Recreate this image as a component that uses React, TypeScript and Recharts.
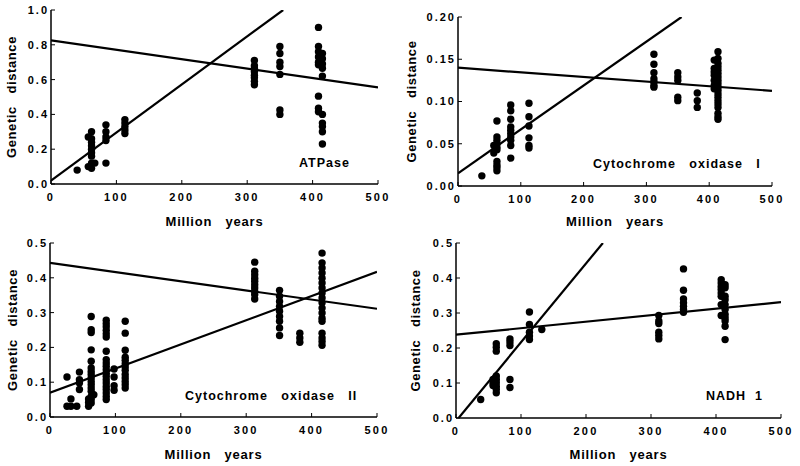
import React from 'react'
import { ScatterChart, Scatter, XAxis, YAxis, ReferenceLine } from 'recharts'

// [million years, genetic distances at that age]
type Group = [number, number[]]
// regression line: x1, y1, x2, y2
type Fit = [number, number, number, number]

const xTicks = [0, 100, 200, 300, 400, 500]

const atpaseGroups: Group[] = [
  [40, [0.08]],
  [57, [0.27, 0.1]],
  [62, [0.3, 0.26, 0.24, 0.22, 0.2, 0.18, 0.16, 0.12, 0.09]],
  [67, [0.12]],
  [84, [0.34, 0.3, 0.27, 0.25, 0.12]],
  [113, [0.37, 0.35, 0.33, 0.31, 0.29]],
  [311, [0.71, 0.68, 0.665, 0.645, 0.625, 0.61, 0.59, 0.57]],
  [350, [0.79, 0.75, 0.7, 0.675, 0.63, 0.425, 0.4]],
  [409, [0.9, 0.79, 0.76, 0.73, 0.7, 0.685, 0.505, 0.435, 0.415]],
  [415, [0.75, 0.72, 0.69, 0.665, 0.62, 0.4, 0.35, 0.33, 0.3, 0.23]],
]
const atpaseFits: Fit[] = [
  [0, 0.02, 355, 1.0],
  [0, 0.825, 500, 0.555],
]
const atpaseTicks = [0, 0.2, 0.4, 0.6, 0.8, 1.0]

const cox1Groups: Group[] = [
  [38, [0.012]],
  [57, [0.048, 0.039]],
  [62, [0.077, 0.058, 0.054, 0.05, 0.046, 0.043, 0.029, 0.025, 0.022, 0.018]],
  [84, [0.096, 0.089, 0.079, 0.07, 0.066, 0.062, 0.058, 0.054, 0.048, 0.033]],
  [113, [0.098, 0.082, 0.071, 0.057, 0.048, 0.045]],
  [312, [0.156, 0.144, 0.134, 0.127, 0.123, 0.119, 0.117]],
  [350, [0.134, 0.129, 0.125, 0.105, 0.101]],
  [381, [0.11, 0.101, 0.093]],
  [408, [0.149, 0.139, 0.135, 0.131, 0.125, 0.119, 0.115]],
  [414, [0.159, 0.151, 0.145, 0.141, 0.137, 0.133, 0.129, 0.125, 0.121, 0.117, 0.113, 0.109, 0.105, 0.101, 0.097, 0.093, 0.086, 0.082, 0.079]],
]
const cox1Fits: Fit[] = [
  [0, 0.015, 356, 0.2],
  [0, 0.14, 500, 0.1126],
]
const cox1Ticks = [0, 0.05, 0.1, 0.15, 0.2]

const cox2Groups: Group[] = [
  [26, [0.115, 0.031]],
  [32, [0.052, 0.031]],
  [41, [0.031]],
  [45, [0.129, 0.107, 0.098, 0.079]],
  [59, [0.052, 0.042, 0.031]],
  [63, [0.289, 0.251, 0.243, 0.193, 0.16, 0.141, 0.131, 0.122, 0.112, 0.102, 0.093, 0.083, 0.074, 0.059, 0.05, 0.04]],
  [67, [0.064]],
  [86, [0.278, 0.268, 0.259, 0.249, 0.239, 0.23, 0.189, 0.165, 0.155, 0.146, 0.136, 0.126, 0.117, 0.107, 0.098, 0.088, 0.079, 0.069, 0.059, 0.05]],
  [98, [0.138, 0.115, 0.09, 0.077]],
  [115, [0.275, 0.241, 0.192, 0.172, 0.163, 0.153, 0.144, 0.134, 0.122, 0.112, 0.102, 0.093, 0.083]],
  [313, [0.445, 0.419, 0.409, 0.399, 0.39, 0.38, 0.371, 0.361, 0.352, 0.339]],
  [351, [0.364, 0.347, 0.332, 0.318, 0.304, 0.289, 0.275, 0.256, 0.234]],
  [382, [0.241, 0.227, 0.215]],
  [416, [0.471, 0.443, 0.428, 0.414, 0.399, 0.385, 0.371, 0.356, 0.342, 0.328, 0.313, 0.299, 0.284, 0.275, 0.241, 0.227, 0.217, 0.206]],
]
const cox2Fits: Fit[] = [
  [0, 0.07, 500, 0.417],
  [0, 0.443, 500, 0.311],
]
const halfTicks = [0, 0.1, 0.2, 0.3, 0.4, 0.5]

const nadhGroups: Group[] = [
  [38, [0.053]],
  [57, [0.11, 0.101, 0.093]],
  [62, [0.212, 0.202, 0.191, 0.12, 0.11, 0.101, 0.091, 0.082, 0.072]],
  [83, [0.226, 0.217, 0.207, 0.11, 0.087]],
  [113, [0.303, 0.267, 0.245, 0.234, 0.224]],
  [132, [0.253]],
  [312, [0.293, 0.277, 0.27, 0.245, 0.236, 0.226]],
  [350, [0.426, 0.365, 0.34, 0.329, 0.319, 0.31, 0.302]],
  [408, [0.395, 0.386, 0.376, 0.367, 0.357, 0.348, 0.324, 0.293]],
  [414, [0.381, 0.372, 0.348, 0.338, 0.324, 0.31, 0.296, 0.286, 0.277, 0.262, 0.224]],
]
const nadhFits: Fit[] = [
  [4, 0, 226, 0.5],
  [0, 0.238, 500, 0.331],
]

const FONT = '"Liberation Sans", Arial, Helvetica, sans-serif'
const W = 400
const H = 233

const Dot = (p: any) => <circle cx={p.cx} cy={p.cy} r={3.7} fill="#000" />

type PanelProps = {
  left: number
  top: number
  plot: { l: number; t: number; r: number; b: number }
  groups: Group[]
  fits: Fit[]
  ticks: number[]
  digits: number
  name: string
  nameAt: [number, number]
  yLabelX: number
}

function Panel({ left, top, plot, groups, fits, ticks, digits, name, nameAt, yLabelX }: PanelProps) {
  const points = groups.flatMap(([x, ys]) => ys.map(y => ({ x, y })))
  const yMax = ticks[ticks.length - 1]
  return (
    <div style={{ position: 'absolute', left, top, width: W, height: H }}>
      <ScatterChart width={W} height={H} margin={{ top: plot.t, right: W - plot.r, bottom: 0, left: 0 }}>
        <XAxis
          type="number"
          dataKey="x"
          domain={[0, 500]}
          ticks={xTicks}
          height={H - plot.b}
          tickSize={-4}
          tickMargin={13}
          axisLine={{ stroke: '#000', strokeWidth: 1.5 }}
          tickLine={{ stroke: '#000' }}
          tick={{ fontSize: 11, fontWeight: 'bold', fill: '#000', letterSpacing: 2.2 }}
          label={{
            value: 'Million\u00a0\u00a0\u00a0years',
            position: 'insideBottom',
            offset: 7,
            style: { fontSize: 13, fontWeight: 'bold', fill: '#000', letterSpacing: 0.8 },
          }}
        />
        <XAxis xAxisId="top" orientation="top" type="number" domain={[0, 500]} height={0} tick={false} tickLine={false} axisLine={{ stroke: '#777' }} />
        <YAxis
          type="number"
          dataKey="y"
          domain={[0, yMax]}
          ticks={ticks}
          width={plot.l}
          tickSize={-4}
          tickMargin={6}
          tickFormatter={(v: number) => v.toFixed(digits)}
          axisLine={{ stroke: '#000', strokeWidth: 1.5 }}
          tickLine={{ stroke: '#000' }}
          tick={{ fontSize: 11, fontWeight: 'bold', fill: '#000', letterSpacing: 2 }}
          label={{
            value: 'Genetic\u00a0\u00a0\u00a0distance',
            angle: -90,
            position: 'insideLeft',
            offset: yLabelX,
            style: { textAnchor: 'middle', fontSize: 13, fontWeight: 'bold', fill: '#000', letterSpacing: 0.6 },
          }}
        />
        <YAxis yAxisId="right" orientation="right" type="number" domain={[0, yMax]} ticks={ticks} width={0} tick={false} tickSize={-3} tickLine={{ stroke: '#555' }} axisLine={{ stroke: '#777' }} />
        {fits.map(([x1, y1, x2, y2], i) => (
          <ReferenceLine
            key={i}
            segment={[{ x: x1, y: y1 }, { x: x2, y: y2 }]}
            stroke="#000"
            strokeWidth={2.2}
            ifOverflow="hidden"
          />
        ))}
        <Scatter data={points} shape={Dot} isAnimationActive={false} />
      </ScatterChart>
      <div
        style={{
          position: 'absolute',
          left: nameAt[0],
          top: nameAt[1],
          transform: 'translateY(-50%)',
          fontSize: 12.5,
          fontWeight: 'bold',
          letterSpacing: 1,
          whiteSpace: 'pre',
        }}
      >
        {name}
      </div>
    </div>
  )
}

export default function App() {
  return (
    <div style={{ position: 'absolute', left: 0, top: 0, width: 800, height: 466, background: '#fff', fontFamily: FONT }}>
      <Panel left={0} top={0} plot={{ l: 51, t: 10, r: 378, b: 184 }} groups={atpaseGroups} fits={atpaseFits}
        ticks={atpaseTicks} digits={1} name="ATPase" nameAt={[299, 163]} yLabelX={11} />
      <Panel left={400} top={0} plot={{ l: 58, t: 17, r: 372, b: 186 }} groups={cox1Groups} fits={cox1Fits}
        ticks={cox1Ticks} digits={2} name={'Cytochrome   oxidase   I'} nameAt={[193, 164]} yLabelX={11} />
      <Panel left={0} top={233} plot={{ l: 50, t: 10, r: 377, b: 184 }} groups={cox2Groups} fits={cox2Fits}
        ticks={halfTicks} digits={1} name={'Cytochrome   oxidase   II'} nameAt={[185, 163]} yLabelX={12} />
      <Panel left={400} top={233} plot={{ l: 56, t: 10, r: 381, b: 185 }} groups={nadhGroups} fits={nadhFits}
        ticks={halfTicks} digits={1} name={'NADH  1'} nameAt={[306, 163]} yLabelX={15} />
    </div>
  )
}
